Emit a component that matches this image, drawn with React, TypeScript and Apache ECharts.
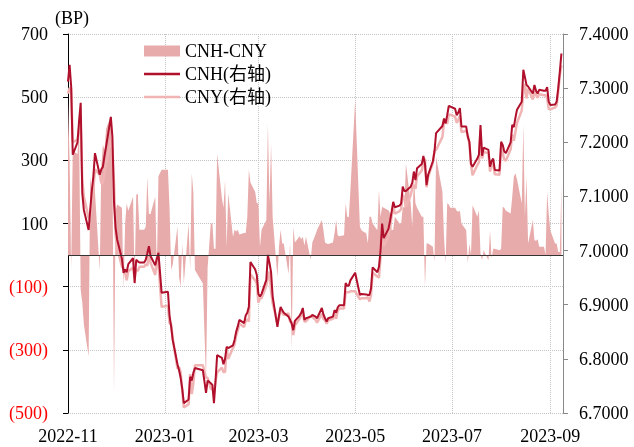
import { useEffect, useRef } from "react";
import * as echarts from "echarts";

// ---- data ----
const lineDates = [
  "2022-11-01","2022-11-02","2022-11-03","2022-11-04","2022-11-07","2022-11-08","2022-11-09","2022-11-10","2022-11-11","2022-11-14",
  "2022-11-15","2022-11-16","2022-11-17","2022-11-18","2022-11-21","2022-11-22","2022-11-23","2022-11-24","2022-11-25","2022-11-28",
  "2022-11-29","2022-11-30","2022-12-01","2022-12-02","2022-12-05","2022-12-06","2022-12-07","2022-12-08","2022-12-09","2022-12-12",
  "2022-12-13","2022-12-14","2022-12-15","2022-12-16","2022-12-19","2022-12-20","2022-12-21","2022-12-22","2022-12-23","2022-12-26",
  "2022-12-27","2022-12-28","2022-12-29","2022-12-30","2023-01-03","2023-01-04","2023-01-05","2023-01-06","2023-01-09","2023-01-10",
  "2023-01-11","2023-01-12","2023-01-13","2023-01-16","2023-01-17","2023-01-18","2023-01-19","2023-01-20","2023-01-25","2023-01-27",
  "2023-01-28","2023-01-30","2023-01-31","2023-02-01","2023-02-02","2023-02-03","2023-02-06","2023-02-07","2023-02-08","2023-02-09",
  "2023-02-10","2023-02-13","2023-02-14","2023-02-15","2023-02-16","2023-02-17","2023-02-20","2023-02-21","2023-02-22","2023-02-23",
  "2023-02-24","2023-02-27","2023-02-28","2023-03-01","2023-03-02","2023-03-03","2023-03-06","2023-03-07","2023-03-08","2023-03-09",
  "2023-03-10","2023-03-13","2023-03-14","2023-03-15","2023-03-16","2023-03-17","2023-03-20","2023-03-21","2023-03-22","2023-03-23",
  "2023-03-24","2023-03-27","2023-03-28","2023-03-29","2023-03-30","2023-03-31","2023-04-03","2023-04-04","2023-04-06","2023-04-07",
  "2023-04-10","2023-04-11","2023-04-12","2023-04-13","2023-04-14","2023-04-17","2023-04-18","2023-04-19","2023-04-20","2023-04-21",
  "2023-04-24","2023-04-25","2023-04-26","2023-04-27","2023-04-28","2023-05-01","2023-05-04","2023-05-05","2023-05-08","2023-05-09",
  "2023-05-10","2023-05-11","2023-05-12","2023-05-15","2023-05-16","2023-05-17","2023-05-18","2023-05-19","2023-05-22","2023-05-23",
  "2023-05-24","2023-05-25","2023-05-26","2023-05-29","2023-05-30","2023-05-31","2023-06-01","2023-06-02","2023-06-05","2023-06-06",
  "2023-06-07","2023-06-08","2023-06-09","2023-06-12","2023-06-13","2023-06-14","2023-06-15","2023-06-16","2023-06-19","2023-06-20",
  "2023-06-21","2023-06-25","2023-06-26","2023-06-27","2023-06-28","2023-06-29","2023-06-30","2023-07-03","2023-07-04","2023-07-05",
  "2023-07-06","2023-07-07","2023-07-10","2023-07-11","2023-07-12","2023-07-13","2023-07-14","2023-07-17","2023-07-18","2023-07-19",
  "2023-07-20","2023-07-21","2023-07-24","2023-07-25","2023-07-26","2023-07-27","2023-07-28","2023-07-31","2023-08-01","2023-08-02",
  "2023-08-03","2023-08-04","2023-08-07","2023-08-08","2023-08-09","2023-08-10","2023-08-11","2023-08-14","2023-08-15","2023-08-16",
  "2023-08-17","2023-08-18","2023-08-21","2023-08-22","2023-08-23","2023-08-24","2023-08-25","2023-08-28","2023-08-29","2023-08-30",
  "2023-08-31","2023-09-01","2023-09-04","2023-09-05","2023-09-06","2023-09-07","2023-09-08"
];

const cnh = [
  7.312,7.343,7.303,7.177,7.200,7.240,7.273,7.106,7.075,7.038,
  7.075,7.110,7.137,7.180,7.140,7.150,7.155,7.175,7.192,7.247,
  7.210,7.090,7.042,7.020,6.985,6.959,6.965,6.960,6.975,6.986,
  6.940,6.983,6.980,6.978,6.978,6.983,6.995,7.008,6.990,6.973,
  6.985,6.996,6.960,6.922,6.924,6.880,6.860,6.835,6.790,6.779,
  6.765,6.745,6.718,6.725,6.767,6.760,6.774,6.783,6.779,6.737,
  6.760,6.755,6.752,6.718,6.760,6.807,6.802,6.790,6.800,6.822,
  6.820,6.825,6.835,6.850,6.860,6.872,6.866,6.880,6.885,6.896,
  6.979,6.965,6.955,6.920,6.915,6.920,6.946,6.992,6.977,6.960,
  6.915,6.859,6.880,6.896,6.890,6.885,6.878,6.872,6.865,6.853,
  6.870,6.880,6.885,6.894,6.872,6.875,6.878,6.881,6.878,6.875,
  6.894,6.882,6.875,6.869,6.875,6.878,6.890,6.885,6.895,6.899,
  6.899,6.940,6.935,6.935,6.945,6.959,6.918,6.920,6.919,6.918,
  6.918,6.930,6.969,6.960,6.970,7.000,7.050,7.023,7.040,7.055,
  7.072,7.090,7.080,7.083,7.087,7.118,7.110,7.110,7.118,7.125,
  7.146,7.130,7.152,7.160,7.175,7.160,7.121,7.140,7.165,7.183,
  7.217,7.230,7.244,7.235,7.250,7.267,7.266,7.262,7.250,7.255,
  7.263,7.229,7.229,7.210,7.201,7.160,7.155,7.170,7.177,7.232,
  7.175,7.190,7.186,7.155,7.165,7.170,7.149,7.148,7.201,7.195,
  7.183,7.180,7.200,7.232,7.228,7.245,7.260,7.275,7.334,7.320,
  7.306,7.303,7.290,7.306,7.295,7.290,7.297,7.295,7.295,7.302,
  7.275,7.269,7.270,7.275,7.300,7.330,7.364
];

const cny = [
  7.290,7.300,7.300,7.200,7.205,7.225,7.235,7.130,7.100,7.060,
  7.060,7.090,7.115,7.150,7.140,7.125,7.125,7.145,7.160,7.205,
  7.185,7.125,7.030,7.005,6.970,6.968,6.958,6.945,6.962,6.968,
  6.950,6.965,6.962,6.970,6.970,6.975,6.972,6.995,6.978,6.955,
  6.988,6.972,6.935,6.896,6.898,6.866,6.864,6.838,6.782,6.785,
  6.775,6.742,6.710,6.716,6.772,6.735,6.755,6.788,6.788,6.765,
  6.765,6.745,6.745,6.735,6.758,6.775,6.784,6.775,6.776,6.819,
  6.800,6.820,6.827,6.843,6.852,6.865,6.859,6.870,6.873,6.869,
  6.956,6.945,6.939,6.904,6.912,6.912,6.935,6.950,6.961,6.925,
  6.903,6.866,6.877,6.888,6.886,6.881,6.884,6.868,6.868,6.844,
  6.862,6.874,6.880,6.888,6.869,6.869,6.880,6.877,6.872,6.867,
  6.883,6.874,6.871,6.865,6.871,6.874,6.883,6.874,6.889,6.893,
  6.893,6.924,6.923,6.923,6.925,6.925,6.910,6.912,6.912,6.914,
  6.906,6.918,6.959,6.952,6.950,6.988,7.035,7.008,7.026,7.042,
  7.064,7.082,7.068,7.073,7.077,7.103,7.098,7.081,7.102,7.116,
  7.121,7.114,7.137,7.148,7.163,7.170,7.117,7.136,7.162,7.185,
  7.186,7.210,7.238,7.238,7.234,7.251,7.251,7.247,7.236,7.241,
  7.249,7.219,7.221,7.213,7.197,7.160,7.139,7.158,7.163,7.222,
  7.170,7.182,7.180,7.146,7.160,7.160,7.141,7.140,7.190,7.180,
  7.168,7.166,7.187,7.214,7.203,7.219,7.236,7.259,7.293,7.308,
  7.281,7.299,7.279,7.295,7.287,7.282,7.289,7.287,7.287,7.282,
  7.262,7.261,7.264,7.268,7.294,7.324,7.342
];

const spreadDates = [
  "2022-11-01","2022-11-02","2022-11-03","2022-11-04","2022-11-07","2022-11-08","2022-11-09","2022-11-10","2022-11-11","2022-11-14",
  "2022-11-15","2022-11-16","2022-11-17","2022-11-18","2022-11-21","2022-11-22","2022-11-23","2022-11-24","2022-11-25","2022-11-28",
  "2022-11-29","2022-11-30","2022-12-01","2022-12-02","2022-12-05","2022-12-06","2022-12-07","2022-12-08","2022-12-09","2022-12-12",
  "2022-12-13","2022-12-14","2022-12-15","2022-12-16","2022-12-19","2022-12-20","2022-12-21","2022-12-22","2022-12-23","2022-12-26",
  "2022-12-27","2022-12-28","2022-12-29","2022-12-30","2023-01-03","2023-01-04","2023-01-05","2023-01-06","2023-01-09","2023-01-10",
  "2023-01-11","2023-01-12","2023-01-13","2023-01-16","2023-01-17","2023-01-18","2023-01-19","2023-01-20","2023-01-25","2023-01-27",
  "2023-01-28","2023-01-30","2023-01-31","2023-02-01","2023-02-02","2023-02-03","2023-02-06","2023-02-07","2023-02-08","2023-02-09",
  "2023-02-10","2023-02-13","2023-02-14","2023-02-15","2023-02-16","2023-02-17","2023-02-20","2023-02-21","2023-02-22","2023-02-23",
  "2023-02-24","2023-02-27","2023-02-28","2023-03-01","2023-03-02","2023-03-03","2023-03-06","2023-03-07","2023-03-08","2023-03-09",
  "2023-03-10","2023-03-13","2023-03-14","2023-03-15","2023-03-16","2023-03-17","2023-03-20","2023-03-21","2023-03-22","2023-03-23",
  "2023-03-24","2023-03-27","2023-03-28","2023-03-29","2023-03-30","2023-03-31","2023-04-03","2023-04-04","2023-04-06","2023-04-07",
  "2023-04-10","2023-04-11","2023-04-12","2023-04-13","2023-04-14","2023-04-17","2023-04-18","2023-04-19","2023-04-20","2023-04-21",
  "2023-04-24","2023-04-25","2023-04-26","2023-04-27","2023-04-28","2023-05-01","2023-05-04","2023-05-05","2023-05-06","2023-05-08",
  "2023-05-09","2023-05-10","2023-05-11","2023-05-12","2023-05-15","2023-05-16","2023-05-17","2023-05-18","2023-05-19","2023-05-22",
  "2023-05-23","2023-05-24","2023-05-25","2023-05-26","2023-05-29","2023-05-30","2023-05-31","2023-06-01","2023-06-02","2023-06-05",
  "2023-06-06","2023-06-07","2023-06-08","2023-06-09","2023-06-12","2023-06-13","2023-06-14","2023-06-15","2023-06-16","2023-06-19",
  "2023-06-20","2023-06-21","2023-06-25","2023-06-26","2023-06-27","2023-06-28","2023-06-29","2023-06-30","2023-07-03","2023-07-04",
  "2023-07-05","2023-07-06","2023-07-07","2023-07-10","2023-07-11","2023-07-12","2023-07-13","2023-07-14","2023-07-17","2023-07-18",
  "2023-07-19","2023-07-20","2023-07-21","2023-07-24","2023-07-25","2023-07-26","2023-07-27","2023-07-28","2023-07-31","2023-08-01",
  "2023-08-02","2023-08-03","2023-08-04","2023-08-07","2023-08-08","2023-08-09","2023-08-10","2023-08-11","2023-08-14","2023-08-15",
  "2023-08-16","2023-08-17","2023-08-18","2023-08-21","2023-08-22","2023-08-23","2023-08-24","2023-08-25","2023-08-28","2023-08-29",
  "2023-08-30","2023-08-31","2023-09-01","2023-09-04","2023-09-05","2023-09-06","2023-09-07","2023-09-08"
];

const spread = [
  490,300,-45,330,320,400,-110,-150,-220,-320,
  250,200,290,200,-50,280,350,330,400,440,
  300,-440,140,160,150,-110,100,164,140,185,
  -80,190,195,80,80,90,248,130,130,185,
  -48,250,260,270,270,150,-47,-30,90,-69,
  -100,37,-90,100,-48,259,200,-47,-90,-396,
  -40,100,100,20,20,322,180,150,237,26,
  195,58,80,75,80,65,70,70,120,270,
  230,200,164,164,26,80,110,417,164,354,
  120,-70,26,80,37,37,-60,40,-300,90,
  40,60,50,58,30,58,-15,40,65,80,
  111,79,40,37,35,40,69,111,63,60,
  63,164,121,120,205,491,90,79,75,69,
  37,121,121,100,79,206,121,153,150,142,
  132,79,80,121,100,100,153,150,290,164,
  90,248,164,150,121,121,-100,37,37,26,
  -20,311,200,58,-26,164,160,150,150,140,
  137,140,100,79,-26,37,0,158,121,142,
  5,-16,15,-16,79,-10,20,20,15,20,
  153,150,140,132,185,248,259,240,164,412,
  121,248,37,111,47,45,50,26,26,0,
  200,130,79,37,37,10,10,222
];

const monthTicks = ["2022-11-01","2023-01-01","2023-03-01","2023-05-01","2023-07-01","2023-09-01"];
const leftTicks = [-500, -300, -100, 100, 300, 500, 700];
const axisStart = "2022-11-01";
const axisEnd = "2023-09-09";

const FONT = "'Liberation Serif', 'Times New Roman', 'Noto Sans CJK SC', serif";
const AREA = "#E8ABAB";
const DARK = "#B0102B";
const LIGHT = "#F1B4B4";
const DAY = 86400000;
const LINE_ICON = "path://M0,0H36V2.4H0Z";

// day index counted from the axis start (calendar days)
function dayOf(s: string): number {
  const [y, m, d] = s.split("-").map(Number);
  const [y0, m0, d0] = axisStart.split("-").map(Number);
  return Math.round((Date.UTC(y, m - 1, d) - Date.UTC(y0, m0 - 1, d0)) / DAY);
}
function labelOf(day: number): string {
  const [y0, m0, d0] = axisStart.split("-").map(Number);
  const dt = new Date(Date.UTC(y0, m0 - 1, d0) + Math.round(day) * DAY);
  const m = dt.getUTCMonth() + 1;
  return `${dt.getUTCFullYear()}-${m < 10 ? "0" + m : m}`;
}

export default function App() {
  const ref = useRef<HTMLDivElement>(null);

  useEffect(() => {
    document.body.style.margin = "0";
    if (!ref.current) return;
    const chart = echarts.init(ref.current, undefined, { renderer: "svg" });
    const monthVals = monthTicks.map(dayOf);

    chart.setOption({
      animation: false,
      textStyle: { fontFamily: FONT },
      grid: { left: 68, right: 71, top: 34, bottom: 34, containLabel: false, outerBoundsMode: "none" },
      legend: {
        orient: "vertical",
        left: 144,
        top: 42,
        padding: 0,
        itemWidth: 36,
        itemHeight: 11,
        itemGap: 5,
        textStyle: { fontSize: 18, color: "#000", fontFamily: FONT, lineHeight: 18 },
        data: [
          { name: "CNH-CNY", icon: "rect", itemStyle: { color: AREA } },
          { name: "CNH(右轴)", icon: LINE_ICON, itemStyle: { color: DARK } },
          { name: "CNY(右轴)", icon: LINE_ICON, itemStyle: { color: LIGHT } },
        ],
      },
      graphic: [
        {
          type: "text",
          left: 55,
          top: 9,
          style: { text: "(BP)", fontSize: 18, fill: "#000", fontFamily: FONT },
        },
      ],
      xAxis: {
        type: "value",
        min: 0,
        max: dayOf(axisEnd),
        axisLine: { show: false },
        axisTick: { show: false, customValues: monthVals },
        axisLabel: {
          customValues: monthVals,
          fontSize: 18,
          color: "#000",
          margin: 14,
          fontFamily: FONT,
          formatter: (v: number) => labelOf(v),
        },
        splitLine: { show: true, lineStyle: { type: "dotted", color: "#c4c4c4", width: 1 } },
      },
      yAxis: [
        {
          type: "value",
          min: -500,
          max: 700,
          interval: 200,
          axisLine: { show: true, lineStyle: { color: "#000", width: 1 } },
          axisTick: { show: true, length: 5, lineStyle: { color: "#000" }, customValues: leftTicks },
          axisLabel: {
            customValues: leftTicks,
            fontSize: 18,
            margin: 20,
            fontFamily: FONT,
            formatter: (v: number) => (v < 0 ? `(${-v})` : `${v}`),
            color: (v: any) => (Number(v) < 0 ? "#FF0000" : "#000"),
          },
          splitLine: { show: true, lineStyle: { type: "dotted", color: "#c4c4c4", width: 1 } },
        },
        {
          type: "value",
          position: "right",
          min: 6.7,
          max: 7.4,
          interval: 0.1,
          axisLine: { show: true, lineStyle: { color: "#888", width: 1 } },
          axisTick: { show: true, length: 5, lineStyle: { color: "#888" } },
          axisLabel: {
            fontSize: 18,
            margin: 16,
            color: "#000",
            fontFamily: FONT,
            formatter: (v: number) => v.toFixed(4),
          },
          splitLine: { show: false },
        },
      ],
      series: [
        {
          name: "CNH-CNY",
          type: "line",
          yAxisIndex: 0,
          symbol: "none",
          showSymbol: false,
          z: 1,
          lineStyle: { width: 0, color: AREA },
          itemStyle: { color: AREA },
          areaStyle: { color: AREA, opacity: 1 },
          data: spreadDates.map((d, i) => [dayOf(d), spread[i]]),
          markLine: {
            silent: true,
            symbol: "none",
            label: { show: false },
            lineStyle: { color: "#333", width: 1.2, type: "solid" },
            data: [{ yAxis: 0 }],
          },
        },
        {
          name: "CNY(右轴)",
          type: "line",
          yAxisIndex: 1,
          symbol: "none",
          showSymbol: false,
          z: 2,
          lineStyle: { width: 2.5, color: LIGHT },
          itemStyle: { color: LIGHT },
          data: lineDates.map((d, i) => [dayOf(d), cny[i]]),
        },
        {
          name: "CNH(右轴)",
          type: "line",
          yAxisIndex: 1,
          symbol: "none",
          showSymbol: false,
          z: 3,
          lineStyle: { width: 2, color: DARK },
          itemStyle: { color: DARK },
          data: lineDates.map((d, i) => [dayOf(d), cnh[i]]),
        },
      ],
    });

    return () => chart.dispose();
  }, []);

  return (
    <div
      ref={ref}
      style={{ position: "fixed", left: 0, top: 0, width: 634, height: 447 }}
    />
  );
}
